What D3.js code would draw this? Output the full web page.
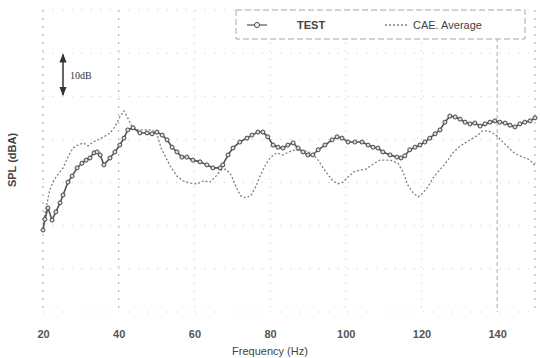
<!DOCTYPE html>
<html>
<head>
<meta charset="utf-8">
<script src="https://cdn.jsdelivr.net/npm/d3@7"></script>
<style>
body { margin: 0; background: #fff; }
text { font-family: "Liberation Sans", Arial, sans-serif; }
</style>
</head>
<body>
<svg id="chart" width="540" height="358"></svg>
<script>
// measured curve (Hz, dBA)
var testFreq = [20.0, 20.5, 21.3, 22.4, 23.4, 24.5, 25.3, 26.6, 27.7, 29.0, 30.3, 31.4, 32.4, 33.5, 34.3, 35.1, 36.1, 37.7, 39.0, 40.3,
  41.4, 42.4, 43.8, 45.6, 47.5, 48.8, 50.1, 51.5, 52.8, 54.1, 55.4, 56.7, 58.0, 59.6, 61.5, 63.3, 64.9, 66.8, 67.5, 68.9,
  70.2, 72.0, 73.9, 75.2, 76.8, 78.1, 79.4, 80.8, 82.1, 83.4, 84.7, 86.1, 87.4, 88.7, 90.0, 91.3, 92.7, 94.5, 96.4, 97.7,
  99.0, 100.6, 102.4, 104.3, 105.9, 107.2, 108.5, 109.8, 111.7, 113.5, 114.6, 115.6, 116.9, 118.3, 119.6, 120.9, 122.2, 123.6, 124.9, 126.2,
  127.5, 128.9, 130.2, 131.5, 132.8, 134.1, 135.5, 136.8, 138.1, 139.4, 140.7, 142.1, 143.4, 144.7, 146.0, 147.3, 148.7, 150.0];
var testSpl = [19.0, 21.5, 24.1, 21.3, 23.2, 25.3, 27.1, 30.1, 31.5, 33.4, 34.5, 35.2, 35.7, 36.9, 37.1, 36.4, 34.1, 35.7, 37.1, 38.7,
  40.3, 42.2, 42.7, 41.5, 41.5, 41.3, 41.7, 41.0, 39.9, 38.2, 37.1, 35.9, 35.9, 35.2, 34.8, 34.1, 33.4, 33.4, 34.1, 36.4,
  38.0, 39.4, 40.3, 41.0, 41.7, 41.7, 40.6, 38.7, 38.2, 38.0, 38.7, 39.2, 38.0, 37.1, 36.4, 36.4, 37.6, 38.7, 39.9, 40.6,
  40.3, 39.4, 39.4, 39.4, 38.7, 38.2, 38.0, 37.1, 36.4, 35.9, 35.7, 36.2, 37.6, 38.2, 38.7, 39.4, 40.3, 41.3, 42.2, 44.0,
  45.4, 45.2, 44.7, 44.0, 43.6, 43.8, 43.1, 43.6, 44.0, 44.3, 44.0, 43.8, 43.3, 42.9, 43.6, 44.0, 44.3, 45.0];

// CAE average curve (Hz, dBA)
var caeFreq = [20.0, 20.8, 21.8, 22.9, 23.9, 25.3, 26.6, 27.9, 29.2, 30.6, 31.9, 33.2, 34.5, 36.1, 37.7, 39.0, 40.3, 41.4, 42.4, 43.5,
  45.1, 46.9, 48.8, 50.1, 51.2, 52.5, 53.8, 55.4, 57.0, 58.8, 60.7, 62.5, 64.1, 65.7, 67.0, 68.3, 69.7, 71.0, 72.3, 73.6,
  75.0, 76.3, 77.6, 78.9, 80.2, 81.8, 83.4, 85.0, 86.6, 88.2, 89.7, 91.3, 92.7, 94.0, 95.3, 96.6, 98.0, 99.3, 100.6, 102.2,
  103.8, 105.3, 106.9, 109.0, 111.7, 113.8, 115.1, 116.4, 117.8, 119.1, 120.4, 121.7, 123.1, 124.4, 125.7, 127.0, 128.3, 129.6, 131.0, 132.3,
  133.6, 134.9, 136.2, 137.6, 138.9, 140.2, 141.5, 142.9, 144.2, 145.5, 146.8, 148.1, 149.5, 150.0];
var caeSpl = [20.2, 24.1, 28.3, 30.6, 31.8, 33.4, 35.9, 38.0, 38.7, 39.2, 38.5, 39.4, 39.9, 40.6, 41.5, 42.9, 45.2, 46.6, 45.0, 42.9,
  42.2, 42.2, 42.2, 41.3, 38.0, 35.7, 33.6, 31.5, 30.4, 29.9, 29.7, 30.4, 30.1, 31.5, 32.9, 33.1, 31.8, 29.0, 26.9, 26.4,
  27.1, 29.2, 32.0, 34.3, 35.9, 36.9, 36.4, 37.1, 37.6, 37.3, 37.3, 36.6, 35.2, 33.4, 31.8, 30.4, 29.7, 30.1, 31.3, 32.5,
  32.9, 33.1, 34.1, 35.2, 35.2, 34.5, 32.5, 29.4, 27.6, 26.7, 27.6, 29.0, 31.1, 32.5, 33.8, 35.2, 36.9, 38.0, 38.9, 39.6,
  40.3, 41.0, 42.0, 42.0, 41.5, 40.6, 39.4, 38.2, 37.1, 36.4, 35.9, 35.5, 34.5, 33.8];

var xTicks = [20, 40, 60, 80, 100, 120, 140];
var yGrid = [0, 10, 20, 30, 40, 50, 60, 70];
var seriesNames = ["TEST", "CAE. Average"];

var svg = d3.select("#chart");

var x = d3.scaleLinear().domain([20, 150]).range([43, 535]);
var y = d3.scaleLinear().domain([0, 70]).range([312, 10]);

//faint grid, like the scanned original
svg.append("g").selectAll("line")
  .data(yGrid)
  .enter().append("line")
  .attr("x1", x(20)).attr("x2", x(150))
  .attr("y1", function(d){ return y(d); })
  .attr("y2", function(d){ return y(d); })
  .attr("stroke", "#d6d6d6")
  .attr("stroke-width", 1)
  .attr("stroke-dasharray", "1.5,8");

svg.append("g").selectAll("line")
  .data(xTicks.concat([150]))
  .enter().append("line")
  .attr("x1", function(d){ return x(d); })
  .attr("x2", function(d){ return x(d); })
  .attr("y1", y(70)).attr("y2", y(0))
  .attr("stroke", function(d){ return (d == 20 || d == 40 || d == 140 || d == 150) ? "#a8a8a8" : "#dedede"; })
  .attr("stroke-width", 1)
  .attr("stroke-dasharray", function(d){ return d == 140 ? "4,3" : "2,6"; });

//x tick labels
var xAxis = svg.append("g")
  .attr("transform", "translate(0,326)")
  .call(d3.axisBottom(x).tickValues(xTicks).tickSize(0).tickPadding(4));
xAxis.select(".domain").remove();
xAxis.selectAll("text")
  .attr("font-size", 11)
  .attr("font-weight", "bold")
  .attr("fill", "#555")
  .style("font-family", "'Liberation Sans', Arial, sans-serif");

//axis titles
svg.append("text")
  .attr("x", 270).attr("y", 355)
  .attr("text-anchor", "middle")
  .attr("font-size", 11)
  .attr("fill", "#444")
  .text("Frequency (Hz)");

svg.append("text")
  .attr("transform", "translate(16,160) rotate(-90)")
  .attr("text-anchor", "middle")
  .attr("font-size", 11)
  .attr("font-weight", "bold")
  .attr("fill", "#444")
  .text("SPL (dBA)");

//10dB scale arrow
var defs = svg.append("defs");
defs.append("marker")
  .attr("id", "arr")
  .attr("viewBox", "0 0 10 10")
  .attr("refX", 9).attr("refY", 5)
  .attr("markerWidth", 6).attr("markerHeight", 6)
  .attr("orient", "auto-start-reverse")
  .append("path")
  .attr("d", "M0,1 L10,5 L0,9 Z")
  .attr("fill", "#333");

svg.append("line")
  .attr("x1", 63).attr("x2", 63)
  .attr("y1", y(59.7)).attr("y2", y(50.3))
  .attr("stroke", "#333")
  .attr("stroke-width", 1.5)
  .attr("marker-start", "url(#arr)")
  .attr("marker-end", "url(#arr)");

svg.append("text")
  .attr("x", 70).attr("y", y(55) + 4)
  .attr("font-size", 10)
  .attr("fill", "#333")
  .style("font-family", "'Liberation Serif', serif")
  .text("10dB");

//curves
var testPts = testFreq.map(function(f, i){ return [f, testSpl[i]]; });
var caePts = caeFreq.map(function(f, i){ return [f, caeSpl[i]]; });

var line = d3.line()
  .x(function(d){ return x(d[0]); })
  .y(function(d){ return y(d[1]); });

svg.append("path")
  .datum(caePts)
  .attr("d", line)
  .attr("fill", "none")
  .attr("stroke", "#808080")
  .attr("stroke-width", 1.3)
  .attr("stroke-dasharray", "2,2");

svg.append("path")
  .datum(testPts)
  .attr("d", line)
  .attr("fill", "none")
  .attr("stroke", "#555")
  .attr("stroke-width", 1.6);

svg.append("g").selectAll("circle")
  .data(testPts)
  .enter().append("circle")
  .attr("cx", function(d){ return x(d[0]); })
  .attr("cy", function(d){ return y(d[1]); })
  .attr("r", 2)
  .attr("fill", "#ddd")
  .attr("stroke", "#444")
  .attr("stroke-width", 1);

//legend
var legend = svg.append("g");
legend.append("rect")
  .attr("x", 236).attr("y", 10)
  .attr("width", 289).attr("height", 29)
  .attr("fill", "#fff")
  .attr("stroke", "#a8a8a8")
  .attr("stroke-dasharray", "6,3");

legend.append("line")
  .attr("x1", 247).attr("x2", 267).attr("y1", 25).attr("y2", 25)
  .attr("stroke", "#555").attr("stroke-width", 1.2);
legend.append("circle")
  .attr("cx", 257).attr("cy", 25).attr("r", 2.5)
  .attr("fill", "#fff").attr("stroke", "#444");
legend.append("text")
  .attr("x", 297).attr("y", 29)
  .attr("font-size", 11).attr("font-weight", "bold").attr("fill", "#444")
  .text(seriesNames[0]);

legend.append("line")
  .attr("x1", 385).attr("x2", 407).attr("y1", 25).attr("y2", 25)
  .attr("stroke", "#808080").attr("stroke-width", 1.3)
  .attr("stroke-dasharray", "2,2");
legend.append("text")
  .attr("x", 413).attr("y", 29)
  .attr("font-size", 11).attr("fill", "#444")
  .text(seriesNames[1]);
</script>
</body>
</html>
